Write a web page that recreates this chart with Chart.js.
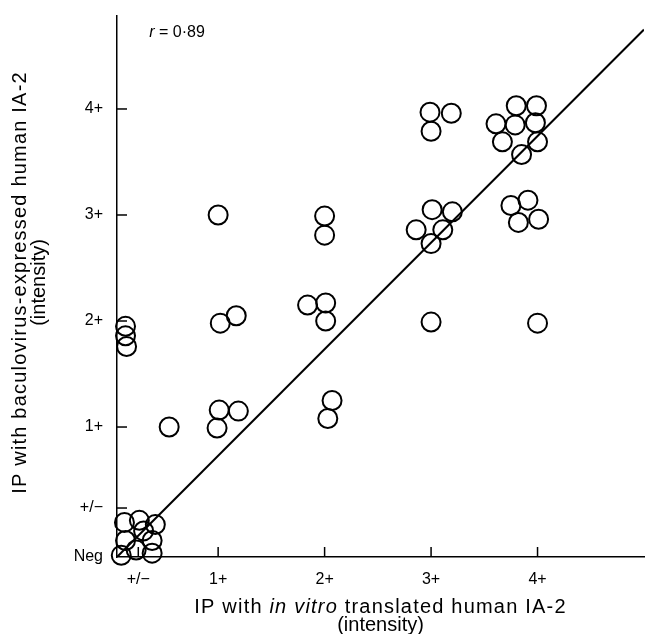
<!DOCTYPE html>
<html>
<head>
<meta charset="utf-8">
<script src="https://cdn.jsdelivr.net/npm/chart.js@4/dist/chart.umd.min.js"></script>
<style>
  html, body { margin: 0; padding: 0; background: #fff; overflow: hidden; }
  canvas { display: block; }
</style>
</head>
<body>
<canvas id="ia2Chart" width="645" height="634"></canvas>
<script>
// tick positions on the intensity scales (1+ = 1, 2+ = 2 ...)
const xTickValues = [0.25, 1, 2, 3, 4];
const xTickLabels = ['+/\u2212', '1+', '2+', '3+', '4+'];
const yTickValues = [-0.226, 0.236, 1, 2, 3, 4];
const yTickLabels = ['Neg', '+/\u2212', '1+', '2+', '3+', '4+'];

// sera: in vitro translated (x) vs baculovirus-expressed (y)
const pointX = [
  0.09, 0.13, 0.12, 0.26, 0.41, 0.38, 0.23, 0.38, 0.30,
  0.13, 0.13, 0.14,
  0.54, 1.01, 1.19, 0.99,
  1.02, 1.17, 1.00,
  2.00, 2.00, 1.84, 2.01, 2.01, 2.07, 2.03,
  2.99, 3.19, 3.00, 3.01, 3.20, 2.86, 3.11, 3.00, 3.00,
  3.80, 3.99, 3.61, 3.79, 3.98, 3.67, 4.00, 3.85, 3.75, 3.91, 3.82, 4.01, 4.00
];
const pointY = [
  -0.21, -0.07, 0.10, 0.12, 0.08, -0.07, -0.16, -0.19, 0.02,
  1.95, 1.86, 1.76,
  1.00, 1.16, 1.15, 0.99,
  1.98, 2.05, 3.00,
  2.99, 2.81, 2.15, 2.17, 2.00, 1.25, 1.08,
  3.97, 3.96, 3.79, 3.05, 3.03, 2.86, 2.86, 2.73, 1.99,
  4.03, 4.03, 3.86, 3.85, 3.87, 3.69, 3.69, 3.57, 3.09, 3.14, 2.93, 2.96, 1.98
];

// fitted line end points
const fitX = [0.05, 5.0];
const fitY = [-0.226, 4.75];

const xMin = 0.05, xMax = 5.0;
const yMin = -0.226, yMax = 4.877;

const fontFamily = '"Liberation Sans", Arial, sans-serif';

// drop the half-label padding chart.js adds at the axis ends
function noEdgePadding(scale) {
  scale.paddingTop = 0;
  scale.paddingBottom = 0;
  scale.paddingLeft = 0;
  scale.paddingRight = 0;
}

// draw a line of text made of plain / italic pieces, centred on x
function drawParts(ctx, parts, cx, y, size) {
  let total = 0;
  parts.forEach(p => {
    ctx.font = (p[1] ? 'italic ' : '') + size + 'px ' + fontFamily;
    total += ctx.measureText(p[0]).width;
  });
  let tx = cx - total / 2;
  parts.forEach(p => {
    ctx.font = (p[1] ? 'italic ' : '') + size + 'px ' + fontFamily;
    ctx.fillText(p[0], tx, y);
    tx += ctx.measureText(p[0]).width;
  });
}

const extras = {
  id: 'extras',
  afterDraw(chart) {
    const { ctx, chartArea } = chart;
    const xs = chart.scales.x, ys = chart.scales.y;
    ctx.save();
    ctx.strokeStyle = '#000';
    ctx.lineWidth = 1.5;
    // inward tick marks
    xs.ticks.forEach(t => {
      const px = xs.getPixelForValue(t.value);
      ctx.beginPath();
      ctx.moveTo(px, chartArea.bottom);
      ctx.lineTo(px, chartArea.bottom - 10);
      ctx.stroke();
    });
    ys.ticks.forEach((t, i) => {
      if (i === 0) return;
      const py = ys.getPixelForValue(t.value);
      ctx.beginPath();
      ctx.moveTo(chartArea.left, py);
      ctx.lineTo(chartArea.left + 10, py);
      ctx.stroke();
    });

    ctx.fillStyle = '#000';
    ctx.textBaseline = 'middle';
    ctx.textAlign = 'left';
    // r value
    drawParts(ctx, [['r', true], [' = 0\u00b789', false]], chartArea.left + 60, 33, 16);

    // x axis title
    const cx = (chartArea.left + chartArea.right) / 2;
    ctx.letterSpacing = '1.2px';
    drawParts(ctx, [['IP with ', false], ['in vitro', true], [' translated human IA-2', false]], cx, 607, 20);
    ctx.letterSpacing = '0px';
    drawParts(ctx, [['(intensity)', false]], cx, 625, 20);

    // y axis title, rotated
    const cy = (chartArea.top + chartArea.bottom) / 2 - 4;
    ctx.save();
    ctx.translate(20, cy);
    ctx.rotate(-Math.PI / 2);
    ctx.letterSpacing = '1.2px';
    drawParts(ctx, [['IP with baculovirus-expressed human IA-2', false]], 0, 0, 20);
    ctx.letterSpacing = '0px';
    drawParts(ctx, [['(intensity)', false]], 0, 19, 20);
    ctx.restore();
    ctx.restore();
  }
};

const ctx = document.getElementById('ia2Chart').getContext('2d');
const chart = new Chart(ctx, {
  type: 'scatter',
  data: {
    datasets: [
      {
        label: 'Sera',
        data: pointX.map((v, i) => ({ x: v, y: pointY[i] })),
        pointStyle: 'circle',
        pointRadius: 9.5,
        pointBorderWidth: 2,
        pointBorderColor: '#000',
        pointBackgroundColor: 'rgba(255,255,255,0)',
        showLine: false,
        clip: false
      },
      {
        label: 'Fit',
        type: 'line',
        data: fitX.map((v, i) => ({ x: v, y: fitY[i] })),
        borderColor: '#000',
        borderWidth: 2,
        pointRadius: 0,
        fill: false
      }
    ]
  },
  options: {
    responsive: false,
    animation: false,
    layout: { autoPadding: false, padding: { top: 16, right: 1, left: 0, bottom: 0 } },
    plugins: {
      legend: { display: false },
      tooltip: { enabled: false }
    },
    scales: {
      x: {
        type: 'linear',
        min: xMin,
        max: xMax,
        afterBuildTicks: scale => { scale.ticks = xTickValues.map(v => ({ value: v })); },
        afterFit: scale => { scale.height = 77; noEdgePadding(scale); },
        grid: { display: true, drawOnChartArea: false, drawTicks: false },
        border: { display: true, color: '#000', width: 1.5 },
        ticks: {
          autoSkip: false,
          maxRotation: 0,
          padding: 13,
          color: '#000',
          font: { family: fontFamily, size: 16 },
          callback: (value, index) => xTickLabels[index]
        }
      },
      y: {
        type: 'linear',
        min: yMin,
        max: yMax,
        afterBuildTicks: scale => { scale.ticks = yTickValues.map(v => ({ value: v })); },
        afterFit: scale => { scale.width = 117; noEdgePadding(scale); },
        grid: { display: true, drawOnChartArea: false, drawTicks: false },
        border: { display: true, color: '#000', width: 1.5 },
        ticks: {
          autoSkip: false,
          padding: 14,
          color: '#000',
          font: { family: fontFamily, size: 16 },
          callback: (value, index) => yTickLabels[index]
        }
      }
    }
  },
  plugins: [extras]
});
</script>
</body>
</html>
